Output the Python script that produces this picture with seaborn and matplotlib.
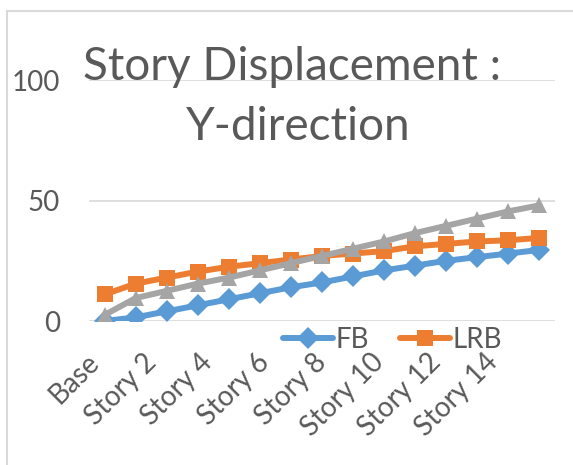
import matplotlib

matplotlib.use("Agg")
import matplotlib.pyplot as plt  # noqa: E402
import matplotlib.transforms as mtransforms  # noqa: E402
from matplotlib.patches import Rectangle  # noqa: E402
import pandas as pd
import seaborn as sns

STORIES = ["Base"] + [f"Story {i}" for i in range(1, 15)]
FB = [0, 1.5, 4, 6.5, 9, 11.5, 14, 16, 18.5, 21, 23, 25, 26.5, 28, 29.5]
LRB = [11, 15.5, 18, 20.5, 22.5, 24, 25.5, 27, 28, 29, 31, 32, 33, 33.5, 34.5]
HDRB = [2.5, 9.5, 12.5, 15.5, 18, 21, 24, 27, 30, 33, 36.5, 39.5, 42.5, 45.5, 48]
SERIES = {"FB": FB, "LRB": LRB, "HDRB": HDRB}
COLORS = {"FB": "#5B9BD5", "LRB": "#ED7D31", "HDRB": "#A5A5A5"}
MARKERS = {"FB": "D", "LRB": "s", "HDRB": "^"}
TEXT = "#595959"

rows = []
for name, vals in SERIES.items():
    for story, v in zip(STORIES, vals):
        rows.append({"story": story, "disp": v, "series": name})
df = pd.DataFrame(rows)

sns.set_style("white")
plt.rcParams["font.family"] = ["Lato", "DejaVu Sans"]

fig = plt.figure(figsize=(5.73, 4.65), dpi=100)
ax = fig.add_axes([89 / 573, 1 - 321 / 465, (555 - 89) / 573, (321 - 80) / 465])

sns.lineplot(
    data=df, x="story", y="disp", hue="series", style="series",
    palette=COLORS, markers=MARKERS, dashes=False, sort=False,
    linewidth=4.3, markersize=11.5, markeredgewidth=0, ax=ax, legend=False,
)

ax.set_xlim(-0.5, len(STORIES) - 0.5)
ax.set_ylim(0, 100)
ax.set_yticks([0, 50, 100])
ax.set_xticks(range(0, len(STORIES), 2))
ax.set_xticklabels(STORIES[::2], rotation=45, ha="right", va="top")
ax.tick_params(axis="y", length=0, pad=21, labelsize=20, labelcolor=TEXT)
ax.tick_params(axis="x", length=0, pad=20, labelsize=20, labelcolor=TEXT)
# Excel packs the rotated labels tighter than the category spacing
for k, lbl in enumerate(ax.get_xticklabels()):
    shift = mtransforms.ScaledTranslation(-(0.5 + 5.2 * k) / 100, 0, fig.dpi_scale_trans)
    lbl.set_transform(lbl.get_transform() + shift)
ax.grid(axis="y", color="#D9D9D9", linewidth=1.2)
ax.set_axisbelow(True)
for s in ax.spines.values():
    s.set_visible(False)
ax.set_xlabel("")
ax.set_ylabel("")

fig.text(0.51, 1 - 80 / 465, "Story Displacement :", ha="center", va="baseline",
         fontsize=33, color=TEXT)
fig.text(0.52, 1 - 140 / 465, "Y-direction", ha="center", va="baseline",
         fontsize=33, color=TEXT)

handles, labels = [], []
for name in ["FB", "LRB"]:
    h, = ax.plot([], [], color=COLORS[name], marker=MARKERS[name], lw=4.3,
                 markersize=11.5, markeredgewidth=0)
    handles.append(h)
    labels.append(name)
fig.legend(handles, labels, loc="center left", bbox_to_anchor=(283 / 573, 1 - 340 / 465),
           ncol=2, frameon=False, fontsize=20, labelcolor=TEXT, handlelength=1.8,
           handletextpad=0.1, columnspacing=1.1, borderaxespad=0, borderpad=0)

fig.patches.append(Rectangle((7 / 573, -0.1), 1.2, (465 - 11) / 465 + 0.1,
                             transform=fig.transFigure, fill=False,
                             edgecolor="#D9D9D9", linewidth=1.5))

fig.savefig("out.png", dpi=100)
